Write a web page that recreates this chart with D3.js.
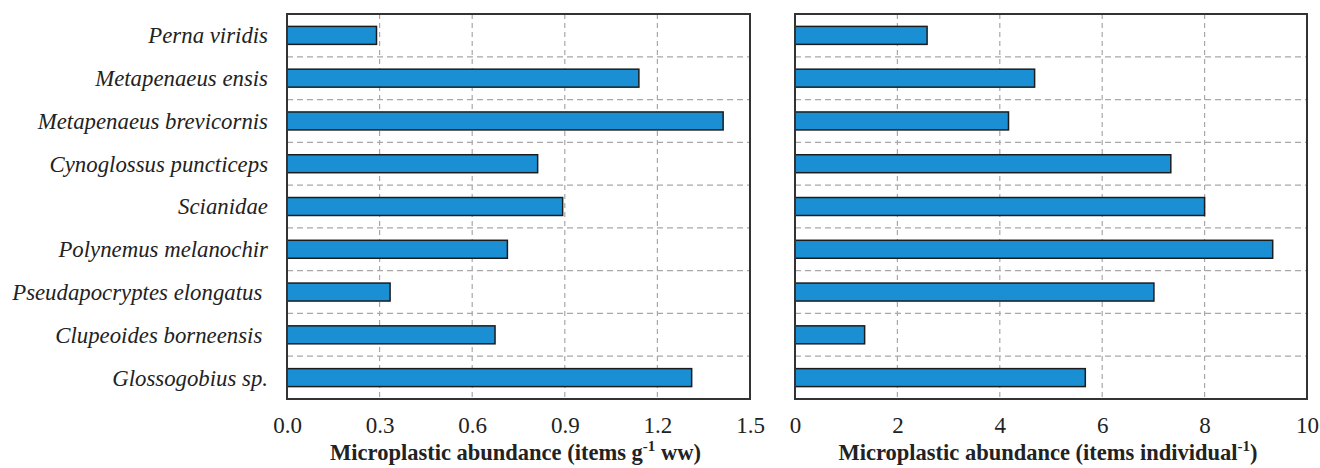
<!DOCTYPE html>
<html>
<head>
<meta charset="utf-8">
<script src="https://cdn.jsdelivr.net/npm/d3@7"></script>
<style>
  body { margin: 0; background: #fff; }
  text { font-family: "Liberation Serif", "Times New Roman", serif; fill: #222; }
  .species { font-style: italic; font-size: 22.8px; }
  .title { font-weight: bold; font-size: 22.5px; }
</style>
</head>
<body>
<svg id="chart"></svg>
<script>
// species, top to bottom
const species = [
    "Perna viridis", "Metapenaeus ensis", "Metapenaeus brevicornis",
    "Cynoglossus puncticeps", "Scianidae", "Polynemus melanochir",
    "Pseudapocryptes elongatus ", "Clupeoides borneensis ", "Glossogobius sp."
];
// items g-1 ww
const perGram = [0.29, 1.14, 1.413, 0.812, 0.893, 0.714, 0.334, 0.674, 1.311];
// items individual-1
const perIndividual = [2.58, 4.68, 4.17, 7.34, 8.0, 9.33, 7.01, 1.36, 5.67];
const gramTicks = [0, 0.3, 0.6, 0.9, 1.2, 1.5];
const indTicks = [0, 2, 4, 6, 8, 10];

const width = 1320, height = 468;
const plotTop = 14, plotBottom = 399;
const svg = d3.select('#chart').attr('width', width).attr('height', height);

const y = d3.scaleBand().domain(species).range([plotTop, plotBottom]).paddingInner(0.58).paddingOuter(0.29);
const yGrid = d3.scaleBand().domain(species).range([plotTop, plotBottom]);

function panel(x0, x1, values, ticks, fmt, titleParts) {
    const x = d3.scaleLinear().domain([ticks[0], ticks[ticks.length - 1]]).range([x0, x1]);
    const g = svg.append('g');

    // dashed grid
    g.selectAll('.vgrid')
        .data(ticks.slice(1, -1))
        .enter().append('line')
        .attr('x1', d => x(d)).attr('x2', d => x(d))
        .attr('y1', plotTop).attr('y2', plotBottom)
        .attr('stroke', '#a8a8a8').attr('stroke-width', 1.2)
        .attr('stroke-dasharray', '5,4');
    g.selectAll('.hgrid')
        .data(species.slice(1))
        .enter().append('line')
        .attr('x1', x0).attr('x2', x1)
        .attr('y1', d => yGrid(d)).attr('y2', d => yGrid(d))
        .attr('stroke', '#a8a8a8').attr('stroke-width', 1.2)
        .attr('stroke-dasharray', '6,4');

    g.selectAll('rect.bar')
        .data(values)
        .enter().append('rect')
        .attr('class', 'bar')
        .attr('x', x(0))
        .attr('y', (d, i) => y(species[i]))
        .attr('width', d => x(d) - x(0))
        .attr('height', y.bandwidth())
        .style('fill', '#1a8fd3')
        .style('stroke', '#1c1c1c')
        .style('stroke-width', 1.5);

    g.append('rect')
        .attr('x', x0).attr('y', plotTop)
        .attr('width', x1 - x0).attr('height', plotBottom - plotTop)
        .style('fill', 'none').style('stroke', '#333').style('stroke-width', 2);

    const axis = g.append('g')
        .attr('transform', `translate(0, ${plotBottom})`)
        .call(d3.axisBottom(x).tickValues(ticks).tickFormat(fmt).tickSize(0).tickPadding(18));
    axis.select('.domain').remove();
    axis.attr('font-family', 'Liberation Serif, serif').attr('font-size', 23);
    axis.selectAll('text').style('fill', '#222');

    const t = g.append('text')
        .attr('class', 'title')
        .attr('x', (x0 + x1) / 2 - 3).attr('y', 460)
        .attr('text-anchor', 'middle');
    t.append('tspan').text(titleParts[0]);
    t.append('tspan').attr('dy', -9).style('font-size', '15px').text(titleParts[1]);
    t.append('tspan').attr('dy', 9).text(titleParts[2]);
}

panel(287, 750, perGram, gramTicks, d3.format('.1f'), ['Microplastic abundance (items g', '-1', ' ww)']);
panel(795, 1307, perIndividual, indTicks, d3.format('d'), ['Microplastic abundance (items individual', '-1', ')']);

svg.append('g').selectAll('text')
    .data(species)
    .enter().append('text')
    .attr('class', 'species')
    .attr('x', 268)
    .attr('y', d => yGrid(d) + yGrid.bandwidth() / 2)
    .attr('dy', '0.35em')
    .attr('text-anchor', 'end')
    .style('white-space', 'pre')
    .text(d => d);
</script>
</body>
</html>
